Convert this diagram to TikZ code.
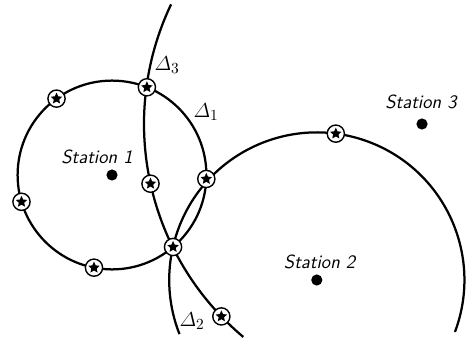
\documentclass[tikz,border=0pt]{standalone}
\usepackage{amsmath}
\usepackage{tikz}
\usetikzlibrary{shapes.geometric}
\tikzset{
  curve/.style={draw=black, line width=1.6pt},
  station/.style={circle, fill=black, minimum size=2.8mm, inner sep=0pt},
  stationlabel/.style={font=\fontsize{13.5}{15}\selectfont\sffamily\slshape, inner sep=1pt},
  deltalabel/.style={font=\fontsize{15}{17}\selectfont, inner sep=1pt},
  fix/.style={circle, draw=black, fill=white, line width=1pt, minimum size=4.3mm, inner sep=0pt,
    path picture={\node[star, star points=5, star point ratio=2.1, fill=black, minimum size=3mm, inner sep=0pt] at (path picture bounding box.center) {};}}
}
\begin{document}
\begin{tikzpicture}
\useasboundingbox (0,0) rectangle (11.775,8.45);
% stations
\coordinate (s1) at (2.8,4.075);
\coordinate (s2) at (7.92,1.45);
\coordinate (s3) at (10.55,5.35);
% position lines
\draw[curve] (s1) circle[radius=2.36];
\draw[curve] ([shift={(-20.6:3.69)}]s2) arc[start angle=-20.6, end angle=201.5, radius=3.69];
\draw[curve] ([shift={(154.5:6.95)}]s3) arc[start angle=154.5, end angle=230, radius=6.95];
% fixes
\node[fix] (f1) at ([shift={(126:2.36)}]s1) {};
\node[fix] (f2) at ([shift={(68.3:2.36)}]s1) {};
\node[fix] (f3) at ([shift={(196.5:2.36)}]s1) {};
\node[fix] (f4) at ([shift={(259:2.36)}]s1) {};
\node[fix] (f5) at ([shift={(-2.4:2.36)}]s1) {};
\node[fix] (f6) at ([shift={(-49.7:2.36)}]s1) {};
\node[fix] (f7) at ([shift={(192.4:6.95)}]s3) {};
\node[fix] (f8) at ([shift={(223.8:6.95)}]s3) {};
\node[fix] (f9) at ([shift={(82.6:3.69)}]s2) {};
% station dots and labels
\node[station] (d1) at (s1) {};
\node[station] (d2) at (s2) {};
\node[station] (d3) at (s3) {};
\node[stationlabel] (l1) at (2.425,4.525) {Station 1};
\node[stationlabel] (l2) at (7.99,1.9) {Station 2};
\node[stationlabel] (l3) at (10.525,5.9) {Station 3};
\node[deltalabel] (a3) at (4.175,6.825) {$\varDelta_3$};
\node[deltalabel] (a1) at (5.15,5.65) {$\varDelta_1$};
\node[deltalabel] (a2) at (4.8,0.425) {$\varDelta_2$};
\end{tikzpicture}
\end{document}
